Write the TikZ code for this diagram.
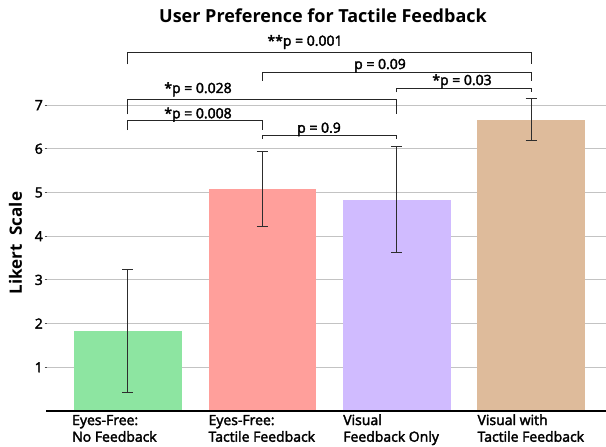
\documentclass[tikz,border=0pt]{standalone}
\usepackage{fontspec}
\setmainfont{Open Sans}[UprightFeatures={FakeBold=2.5}]
\usetikzlibrary{positioning}
\definecolor{barGreen}{HTML}{8DE5A1}
\definecolor{barRed}{HTML}{FF9F9B}
\definecolor{barPurple}{HTML}{D0BBFF}
\definecolor{barTan}{HTML}{DEBB9B}
\definecolor{gridGray}{RGB}{195,195,195}
\definecolor{errGray}{RGB}{45,45,45}

\tikzset{
    gridline/.style={gridGray, line width=1.1pt},
    tickmark/.style={black!70, line width=0.8pt},
    errbar/.style={errGray, line width=1pt},
    bracket/.style={black!85, line width=1pt},
    ticklabel/.style={font=\fontsize{14}{16}\selectfont, anchor=east, inner sep=0pt},
    plabel/.style={font=\fontsize{14}{16}\selectfont, anchor=base, inner sep=0pt},
    catlabel/.style={font=\fontsize{14}{16.7}\selectfont, anchor=base west, align=left, inner sep=0pt}
}

\begin{document}
\begin{tikzpicture}[x=1pt, y=43.7pt]
    \useasboundingbox (0,-0.801) rectangle (606,9.405);

    % Horizontal grid with ticks
    \foreach \v in {1,...,7} {
        \draw[gridline] (47,\v) -- (606,\v);
        \draw[tickmark] (44.5,\v) -- (47,\v);
        \node[ticklabel] (tick\v) at (43,\v) {\v};
    }

    % Bars (mean) and error bars
    \foreach \i/\x/\h/\lo/\hi/\col in {1/127.9/1.83/0.43/3.24/barGreen,
                                       2/262.3/5.08/4.23/5.94/barRed,
                                       3/396.9/4.83/3.62/6.05/barPurple,
                                       4/531.2/6.66/6.20/7.14/barTan} {
        \coordinate (bar\i) at (\x,0);
        \fill[\col] (\x-53.8,0) rectangle (\x+53.8,\h);
        \draw[errbar] (\x,\lo) -- (\x,\hi);
        \draw[errbar] (\x-5.5,\lo) -- (\x+5.5,\lo);
        \draw[errbar] (\x-5.5,\hi) -- (\x+5.5,\hi);
    }
    \draw[black, line width=1.1pt] (46,0) -- (606,0);

    % Significance brackets
    \foreach \a/\b/\top/\leg in {1/4/8.215/7.93, 2/4/7.75/7.56, 3/4/7.37/7.29,
                                 1/3/7.12/6.79, 1/2/6.64/6.43, 2/3/6.30/6.22} {
        \draw[bracket] (bar\a |- 0,\leg) -- (bar\a |- 0,\top)
                    -- (bar\b |- 0,\top) -- (bar\b |- 0,\leg);
    }
    \node[plabel] (p14) at (305,8.359) {**p = 0.001};
    \node[plabel] (p24) at (380,7.826) {p = 0.09};
    \node[plabel] (p34) at (462,7.460) {*p = 0.03};
    \node[plabel] (p13) at (198,7.277) {*p = 0.028};
    \node[plabel] (p12) at (198,6.698) {*p = 0.008};
    \node[plabel] (p23) at (319,6.368) {p = 0.9};

    % Group names under the bars (base = last line)
    \node[catlabel] (cat1) at (72,-0.703) {Eyes-Free:\\No Feedback};
    \node[catlabel] (cat2) at (208.4,-0.703) {Eyes-Free:\\Tactile Feedback};
    \node[catlabel] (cat3) at (343.1,-0.703) {Visual\\Feedback Only};
    \node[catlabel] (cat4) at (477.4,-0.703) {Visual with\\Tactile Feedback};

    % Title and axis name
    \node[font=\fontsize{18}{20}\selectfont\bfseries, anchor=base] (title) at (323,8.886) {User Preference for Tactile Feedback};
    \node[font=\fontsize{17}{19}\selectfont\bfseries, rotate=90] (ylab) at (15.5,3.84) {Likert\ \ Scale};
\end{tikzpicture}
\end{document}
